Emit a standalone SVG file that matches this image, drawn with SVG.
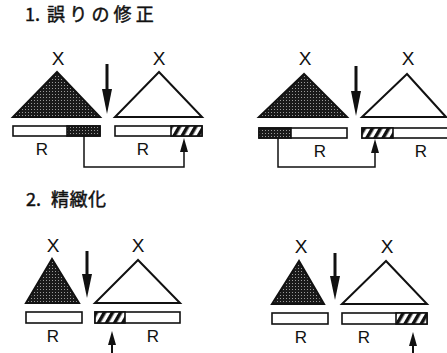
<svg xmlns="http://www.w3.org/2000/svg" width="447" height="353" viewBox="0 0 447 353">
<style>
.t{font-family:"Noto Sans CJK JP","Liberation Sans",sans-serif;font-size:18px;fill:#111;stroke:#111;stroke-width:0.45}
.l{font-family:"Liberation Sans",Arial,sans-serif;font-size:19px;fill:#111;text-anchor:middle}
.r{font-family:"Liberation Sans",Arial,sans-serif;font-size:17px;fill:#111;text-anchor:middle}
.tri{stroke:#111;stroke-width:2;stroke-linejoin:miter}
.bar{fill:#fff;stroke:#111;stroke-width:1.6}
.dk{fill:url(#stip);stroke:#111;stroke-width:1.6}
.ht{fill:url(#hatch);stroke:#111;stroke-width:1.6}
.line{fill:none;stroke:#111;stroke-width:1.5}
.ar{fill:none;stroke:#111;stroke-width:3}
.ar2{fill:none;stroke:#111;stroke-width:2}
.hd{fill:#111}
</style>
<defs>
<pattern id="stip" width="3" height="3" patternUnits="userSpaceOnUse"><rect width="3" height="3" fill="#1a1a1a"/><rect x="1" y="1" width="1" height="1" fill="#9a9a9a"/></pattern>
<pattern id="hatch" width="7" height="10" patternUnits="userSpaceOnUse" patternTransform="rotate(30)"><rect width="7" height="10" fill="#fff"/><rect width="3.5" height="10" fill="#111"/></pattern>
</defs>

<text class="t" x="25" y="21">1.</text>
<text class="t" x="47" y="21" letter-spacing="4.2">誤りの修正</text>
<text class="t" x="26" y="206">2.</text>
<text class="t" x="51" y="206" letter-spacing="0.5">精緻化</text>

<g id="p1-left">
<text class="l" x="58" y="65">X</text>
<polygon class="tri" points="57,72 13,117 100,117" fill="url(#stip)"/>
<rect class="bar" x="13" y="126" width="87" height="10"/>
<rect class="dk" x="67" y="126" width="33" height="10"/>
<text class="r" x="42" y="155">R</text>
</g>
<g id="p1-right">
<text class="l" x="159" y="65">X</text>
<polygon class="tri" points="159,72 115,117 202,117" fill="#fff"/>
<rect class="bar" x="115" y="126" width="87" height="10"/>
<rect class="ht" x="171" y="126" width="31" height="10"/>
<text class="r" x="143" y="155">R</text>
</g>
<g id="p2-left">
<text class="l" x="305" y="65">X</text>
<polygon class="tri" points="304,74 259,117 347,117" fill="url(#stip)"/>
<rect class="bar" x="259" y="128" width="88" height="10"/>
<rect class="dk" x="259" y="128" width="32" height="10"/>
<text class="r" x="320" y="157">R</text>
</g>
<g id="p2-right">
<text class="l" x="408" y="65">X</text>
<polygon class="tri" points="407,74 362,117 446,117" fill="#fff"/>
<rect class="bar" x="362" y="128" width="86" height="10"/>
<rect class="ht" x="362" y="128" width="31" height="10"/>
<text class="r" x="421" y="157">R</text>
</g>
<g id="p3-left">
<text class="l" x="53" y="252">X</text>
<polygon class="tri" points="52,259 26,303 79,303" fill="url(#stip)"/>
<rect class="bar" x="26" y="312" width="56" height="11"/>
<text class="r" x="53" y="342">R</text>
</g>
<g id="p3-right">
<text class="l" x="138" y="252">X</text>
<polygon class="tri" points="138,260 95,303 180,303" fill="#fff"/>
<rect class="bar" x="95" y="312" width="85" height="11"/>
<rect class="ht" x="95" y="312" width="30" height="11"/>
<text class="r" x="153" y="342">R</text>
</g>
<g id="p4-left">
<text class="l" x="301" y="253">X</text>
<polygon class="tri" points="299,261 272,304 324,304" fill="url(#stip)"/>
<rect class="bar" x="272" y="313" width="56" height="11"/>
<text class="r" x="301" y="343">R</text>
</g>
<g id="p4-right">
<text class="l" x="387" y="253">X</text>
<polygon class="tri" points="386,261 342,304 427,304" fill="#fff"/>
<rect class="bar" x="342" y="313" width="85" height="11"/>
<rect class="ht" x="396" y="313" width="31" height="11"/>
<text class="r" x="364" y="343">R</text>
</g>

<g id="connectors">
<line class="ar" x1="107" y1="64" x2="107" y2="92"/>
<path class="hd" d="M102,89 L112,89 L107,114 Z"/>
<line class="ar" x1="356" y1="66" x2="356" y2="94"/>
<path class="hd" d="M351,91 L361,91 L356,116 Z"/>
<line class="ar" x1="87" y1="251" x2="87" y2="277"/>
<path class="hd" d="M82,274 L92,274 L87,298 Z"/>
<line class="ar" x1="335" y1="253" x2="335" y2="279"/>
<path class="hd" d="M330,276 L340,276 L335,300 Z"/>
<path class="line" d="M84,136 V167 H184 V150"/>
<path class="hd" d="M184,138 L188,152 L180,152 Z"/>
<path class="line" d="M278,138 V167 H375 V152"/>
<path class="hd" d="M375,139 L379,153 L371,153 Z"/>
<line class="ar2" x1="112" y1="353" x2="112" y2="344"/>
<path class="hd" d="M112,331 L116,345 L108,345 Z"/>
<line class="ar2" x1="413" y1="353" x2="413" y2="345"/>
<path class="hd" d="M413,332 L417,346 L409,346 Z"/>
</g>
</svg>
